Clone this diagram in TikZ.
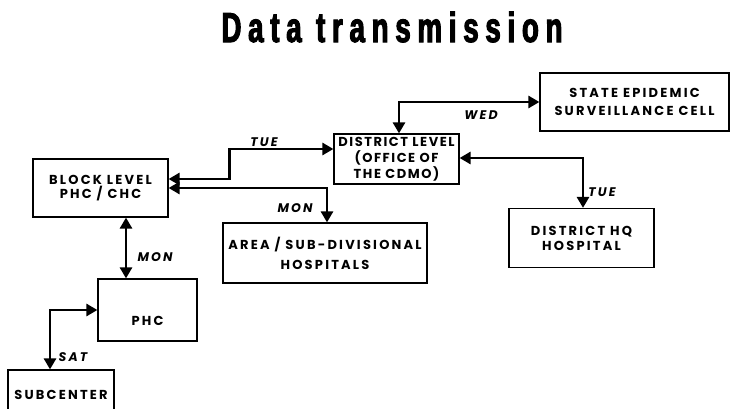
\documentclass[tikz,border=0pt]{standalone}
\usepackage{fontspec}
\setmainfont{Poppins}
\newfontfamily\boxfont[LetterSpace=17]{Poppins}
\newfontfamily\tightboxfont[LetterSpace=12]{Poppins}
\newfontfamily\titlefont[LetterSpace=16,FakeStretch=0.66,FakeBold=2.5]{Liberation Sans}
\usetikzlibrary{arrows.meta}
\tikzset{
  unitbox/.style={draw, line width=1.2pt, align=center, inner sep=0pt},
  boxtext/.style={font=\boxfont\bfseries\fontsize{13}{#1}\selectfont},
  boxtext/.default=15,
  link/.style={line width=2.8pt, {Triangle[length=11pt,width=12pt]}-{Triangle[length=11pt,width=12pt]}},
  daylabel/.style={font=\boxfont\bfseries\itshape\fontsize{12.5}{14}\selectfont, inner sep=0pt}
}
\begin{document}
\begin{tikzpicture}[x=1pt,y=-1pt]
  \useasboundingbox (0,0) rectangle (730,409);
  \clip (0,0) rectangle (730,409);

  % heading
  \node (title) at (392,27) {\titlefont\bfseries\fontsize{42}{46}\selectfont Data transmission};

  % units of the reporting chain
  \node[unitbox, boxtext=14, minimum width=135pt, minimum height=58pt] (block) at (100.5,188) {BLOCK LEVEL\\PHC / CHC};
  \node[unitbox, font=\tightboxfont\bfseries\fontsize{13}{16}\selectfont, minimum width=125pt, minimum height=50pt] (district) at (396.5,159) {DISTRICT LEVEL\\(OFFICE OF\\THE CDMO)};
  \node[unitbox, boxtext=18, minimum width=189pt, minimum height=58pt] (state) at (634.5,102) {STATE EPIDEMIC\\SURVEILLANCE CELL};
  \node[unitbox, boxtext=20, minimum width=204pt, minimum height=60pt] (area) at (325,253) {AREA / SUB-DIVISIONAL\\HOSPITALS};
  \node[unitbox, boxtext=15, minimum width=145pt, minimum height=59pt] (hq) at (581.5,238) {DISTRICT HQ\\HOSPITAL};
  \node[unitbox, minimum width=99pt, minimum height=62pt] (phc) at (147.5,310) {};
  \node[boxtext, inner sep=0pt] (phctext) at ([yshift=-11pt]phc.center) {PHC};
  \node[unitbox, boxtext, minimum width=106pt, minimum height=50pt] (sub) at (61,395) {SUBCENTER};

  % reporting links with their days
  \draw[link] ([yshift=9pt]block.east) -- ++(61,0) |- ([yshift=10pt]district.west);
  \draw[link] (block.east) -| ([xshift=2pt]area.north);
  \draw[link] ([xshift=25.5pt]block.south) -- ([xshift=25.5pt]block.south |- phc.north);
  \draw[link] (phc.west) -| ([xshift=-11pt]sub.north);
  \draw[link] ([xshift=2.5pt]district.north) |- (state.west);
  \draw[link] ([yshift=1pt]district.east) -| ([xshift=1.5pt]hq.north);

  \node[daylabel] (tue1) at (264,142) {TUE};
  \node[daylabel] (mon1) at (295,208) {MON};
  \node[daylabel] (mon2) at (155,257) {MON};
  \node[daylabel] (sat) at (73,357) {SAT};
  \node[daylabel] (wed) at (481,115) {WED};
  \node[daylabel] (tue2) at (602,192) {TUE};
\end{tikzpicture}
\end{document}
